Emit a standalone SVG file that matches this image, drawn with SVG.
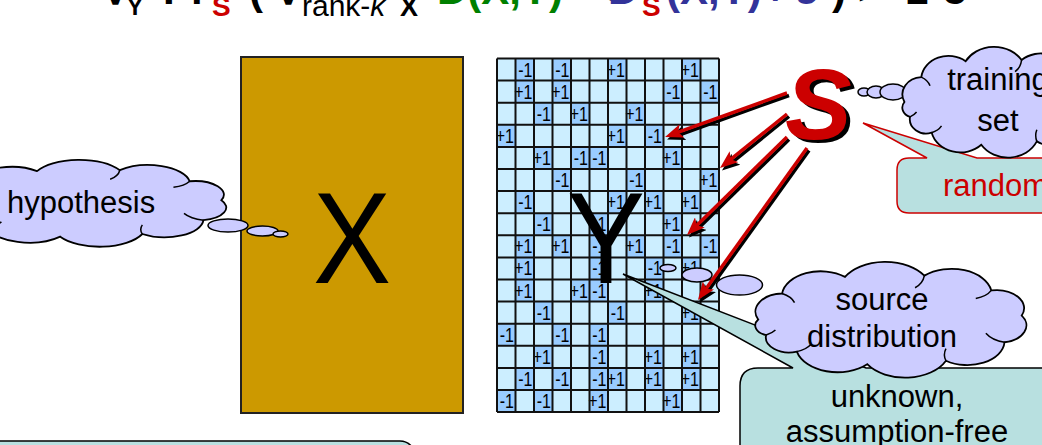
<svg xmlns="http://www.w3.org/2000/svg" width="1042" height="445" viewBox="0 0 1042 445">
<style>
text{font-family:"Liberation Sans",Arial,sans-serif}
.f{font-size:42px;font-weight:bold}
.sb{font-size:28px;font-weight:bold;fill:#cc0000}
.cell{font-size:16px;text-anchor:end;fill:#000}
.lbl{font-size:31px;fill:#000;text-anchor:middle}
.big{font-size:130px;text-anchor:middle;fill:#000}
.bub{fill:#ccccff;stroke:#000;stroke-width:1.5}
.dk{fill:#99ccff}
.ar{stroke:#cc0000;stroke-width:3.5;fill:none;marker-end:url(#ahR)}
.sh{stroke:#000;stroke-width:3.5;fill:none;marker-end:url(#ahK)}
.call{fill:#b8e0e0;stroke-width:1.5}
</style>
<defs>
<marker id="ahR" markerUnits="userSpaceOnUse" viewBox="0 0 18 14" markerWidth="18" markerHeight="14" refX="9" refY="7" orient="auto"><path d="M0,0 L18,7 L0,14 L4,7 z" fill="#cc0000"/></marker>
<marker id="ahK" markerUnits="userSpaceOnUse" viewBox="0 0 18 14" markerWidth="18" markerHeight="14" refX="9" refY="7" orient="auto"><path d="M0,0 L18,7 L0,14 L4,7 z" fill="#000"/></marker>
<g id="cloud">
<path fill="#ccccff" stroke="#000" stroke-width="1.8" vector-effect="non-scaling-stroke" d="M15,60 A18,18 0 0 1 30.4,34.2 A25,25 0 0 1 70.9,17.7 A30,30 0 0 1 122,16.5 A26,26 0 0 1 165.1,31.1 A18,18 0 0 1 184.7,56.1 A17,17 0 0 1 173.6,82.5 A24,24 0 0 1 135.9,100.8 A29,29 0 0 1 85.2,104.3 A27,27 0 0 1 39.9,91.8 A15,15 0 0 1 20.1,75.4 A10,10 0 0 1 15,60 Z"/>
<path fill="none" stroke="#000" stroke-width="1.5" vector-effect="non-scaling-stroke" d="M30.4,34.2 q6,3 8,9 M122,16.5 q-1,8 -6,12 M165.1,31.1 q-3,6 -10,8 M173.6,82.5 q-8,-2 -12,-9 M135.9,100.8 q-2,-6 0,-12 M39.9,91.8 q6,-2 9,-7 M20.1,75.4 q4,-2 6,-5"/>
</g>
</defs>

<g id="formula">
<text class="f" x="101" y="4">∀</text>
<text x="127" y="15" style="font-size:24px;font-weight:bold">Y</text>
<text class="f" x="163" y="4">Pr</text>
<text class="sb" x="212" y="16">S</text>
<text class="f" x="249" y="4">(</text>
<text class="f" x="274" y="4">∀</text>
<text x="302" y="16" style="font-size:30px">rank-<tspan style="font-style:italic">k</tspan></text>
<text x="400" y="16" style="font-size:27px;font-weight:bold">X</text>
<text class="f" x="437" y="4" fill="#008000">D(X,Y)</text>
<text class="f" x="590" y="4">&lt;</text>
<text class="f" x="608" y="4" fill="#333399">D</text>
<text class="sb" x="642" y="16">S</text>
<text class="f" x="666" y="4" fill="#333399">(X,Y)</text>
<text class="f" x="763" y="4" fill="#333399">+</text>
<text class="f" x="796" y="4" fill="#333399">ε</text>
<text class="f" x="832" y="4">)</text>
<text class="f" x="858" y="4">&gt;</text>
<text class="f" x="905" y="4">1-δ</text>
</g>

<g id="matrixX">
<rect x="241" y="57" width="222" height="356" fill="#cc9900" stroke="#222" stroke-width="2"/>
<text class="big" transform="translate(352,283) scale(0.9,1)">X</text>
</g>

<g id="matrixY">
<rect x="497" y="58.5" width="222" height="353.6" fill="#cceeff"/>
<g class="dk">
<rect x="515.5" y="58.5" width="18.5" height="22.1"/><rect x="552.5" y="58.5" width="18.5" height="22.1"/><rect x="608" y="58.5" width="18.5" height="22.1"/><rect x="682" y="58.5" width="18.5" height="22.1"/>
<rect x="515.5" y="80.6" width="18.5" height="22.1"/><rect x="552.5" y="80.6" width="18.5" height="22.1"/><rect x="663.5" y="80.6" width="18.5" height="22.1"/><rect x="700.5" y="80.6" width="18.5" height="22.1"/>
<rect x="534" y="102.7" width="18.5" height="22.1"/><rect x="571" y="102.7" width="18.5" height="22.1"/><rect x="626.5" y="102.7" width="18.5" height="22.1"/>
<rect x="497" y="124.8" width="18.5" height="22.1"/><rect x="608" y="124.8" width="18.5" height="22.1"/><rect x="645" y="124.8" width="18.5" height="22.1"/>
<rect x="534" y="146.9" width="18.5" height="22.1"/><rect x="571" y="146.9" width="18.5" height="22.1"/><rect x="589.5" y="146.9" width="18.5" height="22.1"/><rect x="663.5" y="146.9" width="18.5" height="22.1"/>
<rect x="552.5" y="169" width="18.5" height="22.1"/><rect x="626.5" y="169" width="18.5" height="22.1"/><rect x="700.5" y="169" width="18.5" height="22.1"/>
<rect x="515.5" y="191.1" width="18.5" height="22.1"/><rect x="608" y="191.1" width="18.5" height="22.1"/><rect x="645" y="191.1" width="18.5" height="22.1"/><rect x="682" y="191.1" width="18.5" height="22.1"/>
<rect x="534" y="213.2" width="18.5" height="22.1"/><rect x="589.5" y="213.2" width="18.5" height="22.1"/><rect x="663.5" y="213.2" width="18.5" height="22.1"/>
<rect x="515.5" y="235.3" width="18.5" height="22.1"/><rect x="552.5" y="235.3" width="18.5" height="22.1"/><rect x="589.5" y="235.3" width="18.5" height="22.1"/><rect x="626.5" y="235.3" width="18.5" height="22.1"/><rect x="663.5" y="235.3" width="18.5" height="22.1"/><rect x="700.5" y="235.3" width="18.5" height="22.1"/>
<rect x="515.5" y="257.4" width="18.5" height="22.1"/><rect x="589.5" y="257.4" width="18.5" height="22.1"/><rect x="645" y="257.4" width="18.5" height="22.1"/><rect x="682" y="257.4" width="18.5" height="22.1"/>
<rect x="515.5" y="279.5" width="18.5" height="22.1"/><rect x="571" y="279.5" width="18.5" height="22.1"/><rect x="589.5" y="279.5" width="18.5" height="22.1"/><rect x="645" y="279.5" width="18.5" height="22.1"/>
<rect x="534" y="301.6" width="18.5" height="22.1"/><rect x="608" y="301.6" width="18.5" height="22.1"/><rect x="682" y="301.6" width="18.5" height="22.1"/>
<rect x="497" y="323.7" width="18.5" height="22.1"/><rect x="552.5" y="323.7" width="18.5" height="22.1"/><rect x="589.5" y="323.7" width="18.5" height="22.1"/>
<rect x="534" y="345.8" width="18.5" height="22.1"/><rect x="589.5" y="345.8" width="18.5" height="22.1"/><rect x="645" y="345.8" width="18.5" height="22.1"/><rect x="682" y="345.8" width="18.5" height="22.1"/>
<rect x="515.5" y="367.9" width="18.5" height="22.1"/><rect x="552.5" y="367.9" width="18.5" height="22.1"/><rect x="589.5" y="367.9" width="18.5" height="22.1"/><rect x="608" y="367.9" width="18.5" height="22.1"/><rect x="645" y="367.9" width="18.5" height="22.1"/><rect x="682" y="367.9" width="18.5" height="22.1"/>
<rect x="497" y="390" width="18.5" height="22.1"/><rect x="534" y="390" width="18.5" height="22.1"/><rect x="589.5" y="390" width="18.5" height="22.1"/><rect x="663.5" y="390" width="18.5" height="22.1"/>
</g>
<g transform="scale(1,1.3)">
<text class="cell" x="532.5" y="58.9">-1</text><text class="cell" x="569.5" y="58.9">-1</text><text class="cell" x="625" y="58.9">+1</text><text class="cell" x="699" y="58.9">+1</text>
<text class="cell" x="532.5" y="75.9">+1</text><text class="cell" x="569.5" y="75.9">+1</text><text class="cell" x="680.5" y="75.9">-1</text><text class="cell" x="717.5" y="75.9">-1</text>
<text class="cell" x="551" y="92.9">-1</text><text class="cell" x="588" y="92.9">+1</text><text class="cell" x="643.5" y="92.9">+1</text>
<text class="cell" x="514" y="109.9">+1</text><text class="cell" x="625" y="109.9">+1</text><text class="cell" x="662" y="109.9">-1</text>
<text class="cell" x="551" y="126.9">+1</text><text class="cell" x="588" y="126.9">-1</text><text class="cell" x="606.5" y="126.9">-1</text><text class="cell" x="680.5" y="126.9">+1</text>
<text class="cell" x="569.5" y="143.9">-1</text><text class="cell" x="643.5" y="143.9">-1</text><text class="cell" x="717.5" y="143.9">+1</text>
<text class="cell" x="532.5" y="160.9">-1</text><text class="cell" x="625" y="160.9">+1</text><text class="cell" x="662" y="160.9">+1</text><text class="cell" x="699" y="160.9">+1</text>
<text class="cell" x="551" y="177.9">-1</text><text class="cell" x="606.5" y="177.9">+1</text><text class="cell" x="680.5" y="177.9">+1</text>
<text class="cell" x="532.5" y="194.9">+1</text><text class="cell" x="569.5" y="194.9">+1</text><text class="cell" x="606.5" y="194.9">-1</text><text class="cell" x="643.5" y="194.9">+1</text><text class="cell" x="680.5" y="194.9">-1</text><text class="cell" x="717.5" y="194.9">-1</text>
<text class="cell" x="532.5" y="211.9">+1</text><text class="cell" x="606.5" y="211.9">-1</text><text class="cell" x="662" y="211.9">-1</text><text class="cell" x="699" y="211.9">+1</text>
<text class="cell" x="532.5" y="228.9">+1</text><text class="cell" x="588" y="228.9">+1</text><text class="cell" x="606.5" y="228.9">-1</text><text class="cell" x="662" y="228.9">+1</text>
<text class="cell" x="551" y="245.9">-1</text><text class="cell" x="625" y="245.9">-1</text><text class="cell" x="699" y="245.9">+1</text>
<text class="cell" x="514" y="262.9">-1</text><text class="cell" x="569.5" y="262.9">-1</text><text class="cell" x="606.5" y="262.9">-1</text>
<text class="cell" x="551" y="279.9">+1</text><text class="cell" x="606.5" y="279.9">-1</text><text class="cell" x="662" y="279.9">+1</text><text class="cell" x="699" y="279.9">+1</text>
<text class="cell" x="532.5" y="296.9">-1</text><text class="cell" x="569.5" y="296.9">-1</text><text class="cell" x="606.5" y="296.9">-1</text><text class="cell" x="625" y="296.9">+1</text><text class="cell" x="662" y="296.9">+1</text><text class="cell" x="699" y="296.9">+1</text>
<text class="cell" x="514" y="313.9">-1</text><text class="cell" x="551" y="313.9">-1</text><text class="cell" x="606.5" y="313.9">+1</text><text class="cell" x="680.5" y="313.9">+1</text>
</g>
<path fill="none" stroke="#111" stroke-width="2" d="M497,58.5V412.1M515.5,58.5V412.1M534,58.5V412.1M552.5,58.5V412.1M571,58.5V412.1M589.5,58.5V412.1M608,58.5V412.1M626.5,58.5V412.1M645,58.5V412.1M663.5,58.5V412.1M682,58.5V412.1M700.5,58.5V412.1M719,58.5V412.1M497,58.5H719M497,80.6H719M497,102.7H719M497,124.8H719M497,146.9H719M497,169H719M497,191.1H719M497,213.2H719M497,235.3H719M497,257.4H719M497,279.5H719M497,301.6H719M497,323.7H719M497,345.8H719M497,367.9H719M497,390H719M497,412.1H719"/>
<text class="big" transform="translate(606,283) scale(0.9,1)">Y</text>
</g>

<g id="hypothesis">
<use href="#cloud" transform="translate(-77.8,157.7) scale(1.62,0.757)"/>
<ellipse class="bub" cx="228" cy="225.5" rx="20" ry="6.5"/>
<ellipse class="bub" cx="262.5" cy="231" rx="15.5" ry="5"/>
<ellipse class="bub" cx="280.5" cy="234" rx="7.5" ry="3"/>
<text x="7" y="213" style="font-size:31px">hypothesis</text>
</g>

<g id="unknown">
<path class="call" stroke="#000" d="M623,274 L793,368 L758,368 Q740,368 740,386 L740,470 L1070,470 L1070,368 L866,368 Z"/>
<text class="lbl" x="897" y="407">unknown,</text>
<text class="lbl" x="897" y="442">assumption-free</text>
</g>

<g id="random">
<path class="call" stroke="#cc0000" d="M863,123 L927,158 L909,158 Q897,158 897,170 L897,201 Q897,213 909,213 L1070,213 L1070,158 L977,158 Z"/>
<text x="943" y="196" style="font-size:31px;fill:#cc0000">random</text>
</g>

<g id="connectors">
<g transform="translate(2,2.5)">
<path class="sh" d="M787,93 L673.5,133.9"/>
<path class="sh" d="M787,114 L727,162.4"/>
<path class="sh" d="M787,137 L693.4,228.7"/>
<path class="sh" d="M807,148 L703.2,292.7"/>
</g>
<path class="ar" d="M787,93 L673.5,133.9"/>
<path class="ar" d="M787,114 L727,162.4"/>
<path class="ar" d="M787,137 L693.4,228.7"/>
<path class="ar" d="M807,148 L703.2,292.7"/>
</g>

<g id="S">
<text x="789" y="142" style="font-size:100px;font-weight:bold;font-style:italic;fill:#000">S</text>
<text x="785" y="139" style="font-size:100px;font-weight:bold;font-style:italic;fill:#cc0000">S</text>
</g>

<g id="training">
<ellipse class="bub" cx="864" cy="92" rx="6" ry="4"/>
<ellipse class="bub" cx="876" cy="92" rx="9" ry="6"/>
<ellipse class="bub" cx="893" cy="92" rx="13" ry="8"/>
<use href="#cloud" transform="translate(888,44.1) scale(1.095,0.965)"/>
<text class="lbl" x="998" y="90">training</text>
<text class="lbl" x="998" y="131">set</text>
</g>

<g id="source">
<ellipse class="bub" cx="668" cy="268" rx="8" ry="3.5"/>
<ellipse class="bub" cx="697" cy="275" rx="15" ry="7"/>
<ellipse class="bub" cx="739.5" cy="285" rx="23" ry="10"/>
<use href="#cloud" transform="translate(734.9,259) scale(1.553,1.009)"/>
<text class="lbl" x="882" y="310">source</text>
<text class="lbl" x="882" y="347">distribution</text>
</g>

<g id="note">
<rect x="-20" y="441" width="435" height="40" rx="15" fill="#b8e0e0" stroke="#000" stroke-width="1.5"/>
</g>
</svg>
